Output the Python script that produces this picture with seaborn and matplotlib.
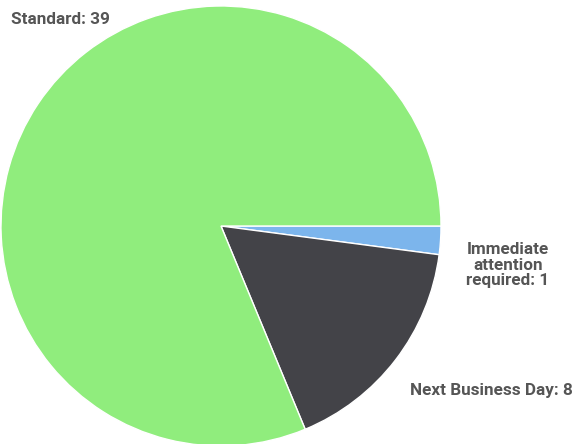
import matplotlib
matplotlib.use("Agg")
import matplotlib.pyplot as plt
import seaborn as sns

# data
categories = ["Immediate\nattention\nrequired", "Next Business Day", "Standard"]
counts = [1, 8, 39]
colors = ["#7cb5ec", "#434348", "#90ed7d"]

sns.set_theme(style="white")
plt.rcParams['font.family'] = ['Roboto', 'DejaVu Sans']

W, H = 574, 444
fig = plt.figure(figsize=(W / 100, H / 100), dpi=100)
ax = fig.add_axes([1 / W, (H - 226 - 220) / H, 440 / W, 440 / H])

ax.pie(counts, colors=colors, startangle=0, counterclock=False,
       wedgeprops=dict(edgecolor="white", linewidth=1))
ax.set_xlim(-1, 1)
ax.set_ylim(-1, 1)
ax.set_aspect("equal")
ax.axis("off")

# label anchor positions in pixels (from top-left)
label_pos = [(508, 265, "center"), (410, 390, "left"), (11, 20, "left")]
for (px, py, ha), cat, n in zip(label_pos, categories, counts):
    fig.text(px / W, 1 - py / H, f"{cat}: {n}", ha=ha, va="center",
             multialignment="center", fontsize=12.3, fontweight="bold",
             color="#555555", linespacing=1.05)

fig.savefig("out.png", dpi=100)
